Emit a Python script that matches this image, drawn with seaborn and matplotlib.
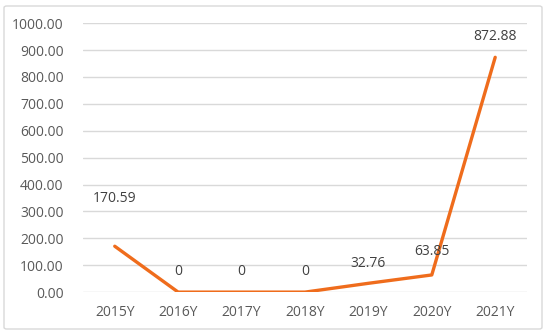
import matplotlib
matplotlib.use("Agg")
import matplotlib.pyplot as plt
import seaborn as sns
import pandas as pd
from matplotlib.patches import FancyBboxPatch

years = ["2015Y", "2016Y", "2017Y", "2018Y", "2019Y", "2020Y", "2021Y"]
values = [170.59, 0, 0, 0, 32.76, 63.85, 872.88]
labels = ["170.59", "0", "0", "0", "32.76", "63.85", "872.88"]
yticks = [0, 100, 200, 300, 400, 500, 600, 700, 800, 900, 1000]

sns.set_theme(style="white")
plt.rcParams['font.family'] = ['Open Sans', 'DejaVu Sans']

fig = plt.figure(figsize=(5.5, 3.35), dpi=100)
ax = fig.add_axes([0.151, 0.128, 0.807, 0.803])

df = pd.DataFrame({"year": years, "value": values})
sns.lineplot(data=df, x="year", y="value", ax=ax, color="#EF6C1C", linewidth=2.4, sort=False)

ax.set_ylim(0, 1000)
ax.set_xlim(-0.5, len(years) - 0.5)
ax.set_yticks(yticks)
ax.set_yticklabels([f"{v:.2f}" for v in yticks])
ax.grid(axis="y", color="#d9d9d9", linewidth=1)
ax.set_axisbelow(True)
for s in ax.spines.values():
    s.set_visible(False)
ax.tick_params(axis="both", length=0, labelsize=10, labelcolor="#595959")
ax.tick_params(axis="y", pad=14)
ax.tick_params(axis="x", pad=9)
ax.set_xlabel("")
ax.set_ylabel("")

offsets = [48, 21, 21, 21, 20, 23, 21]
for i, (v, t) in enumerate(zip(values, labels)):
    ax.annotate(t, (i, v), xytext=(0, offsets[i] * 0.72), textcoords="offset points",
                ha="center", va="center", fontsize=10, color="#404040")

border = FancyBboxPatch((4 / 550, 1 - 329 / 335), 538 / 550, 323 / 335,
                        boxstyle="round,pad=0,rounding_size=0.005",
                        transform=fig.transFigure, fill=False,
                        edgecolor="#d9d9d9", linewidth=1)
fig.patches.append(border)

fig.savefig("out.png", dpi=100)
